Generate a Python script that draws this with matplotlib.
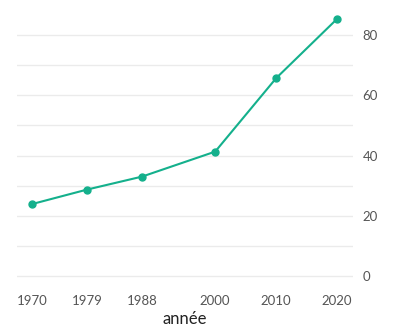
import matplotlib.pyplot as plt

# données
annees = [1970, 1979, 1988, 2000, 2010, 2020]
valeurs = [23.9, 28.7, 33.0, 41.3, 65.7, 85.4]
yticks = [0, 20, 40, 60, 80]

plt.rcParams['font.family'] = ['Lato', 'DejaVu Sans']

fig = plt.figure(figsize=(4.09, 3.30), dpi=100)
ax = fig.add_axes([17 / 409, 45 / 330, 336 / 409, 277 / 330])

ax.plot(annees, valeurs, color='#14b08c', lw=1.5, marker='o', ms=5, zorder=3)

ax.set_xlim(1967.5, 2022.6)
ax.set_ylim(-3, 89)
ax.set_xticks(annees)
ax.set_yticks(range(0, 90, 10), minor=False)
ax.set_yticklabels([str(v) if v in yticks else '' for v in range(0, 90, 10)])
ax.yaxis.tick_right()
ax.grid(axis='y', color='#ebebeb', lw=1)
ax.set_axisbelow(True)
for s in ax.spines.values():
    s.set_visible(False)
ax.tick_params(length=0, labelsize=9.5, labelcolor='#555555')
ax.tick_params(axis='y', pad=7)
ax.tick_params(axis='x', pad=7)
ax.set_xlabel('année', fontsize=12, color='#222222', labelpad=3)

fig.savefig('out.png', dpi=100)
